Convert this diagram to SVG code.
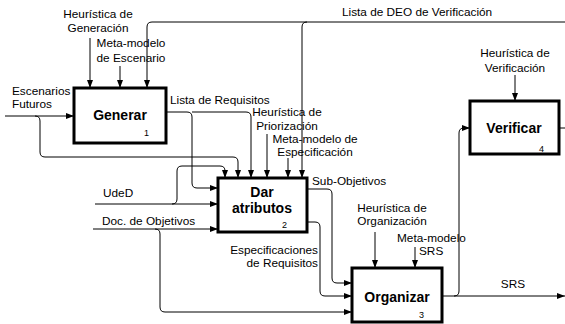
<svg xmlns="http://www.w3.org/2000/svg" width="565" height="324" viewBox="0 0 565 324">
<defs>
<marker id="ah" markerWidth="8" markerHeight="6" refX="8" refY="3" orient="auto" markerUnits="userSpaceOnUse">
<path d="M0,0 L8,3 L0,6 Z" fill="#000"/>
</marker>
<style>
.box{fill:#fff;stroke:#000;stroke-width:3}
.t{font-family:"Liberation Sans",Arial,sans-serif;font-size:11.8px;fill:#000}
.b{font-family:"Liberation Sans",Arial,sans-serif;font-size:14px;font-weight:bold;fill:#000;text-anchor:middle}
.n{font-family:"Liberation Sans",Arial,sans-serif;font-size:9px;fill:#000}
.c{text-anchor:middle}
.r{text-anchor:end}
.w{fill:none;stroke:#000;stroke-width:1}
.a{marker-end:url(#ah)}
</style>
</defs>
<rect width="565" height="324" fill="#fff"/>
<g id="connectors">
<path class="w a" d="M90,38 V88"/>
<path class="w a" d="M120,66 V88"/>
<path class="w a" d="M565,22 H152 Q147,22 147,27 V88"/>
<path class="w a" d="M307,22 Q302,22 302,27 V178"/>
<path class="w a" d="M5,116 H74"/>
<path class="w a" d="M35,116 Q40,116 40,121 V152 Q40,157 45,157 H233 Q238,157 238,162 V178"/>
<path class="w a" d="M166,112 H187 Q192,112 192,117 V183 Q192,188 197,188 H218"/>
<path class="w a" d="M192,112 H246 Q251,112 251,117 V178"/>
<path class="w a" d="M267,134 V178"/>
<path class="w a" d="M288,158 V178"/>
<path class="w a" d="M95,204 H218"/>
<path class="w a" d="M172,204 Q177,204 177,199 V171 Q177,166 182,166 H220 Q225,166 225,171 V178"/>
<path class="w a" d="M93,229 H218"/>
<path class="w a" d="M155,229 Q160,229 160,234 V307 Q160,312 165,312 H352"/>
<path class="w a" d="M307,189 H327 Q332,189 332,194 V278 Q332,283 337,283 H352"/>
<path class="w a" d="M307,222 H315 Q320,222 320,227 V291 Q320,296 325,296 H352"/>
<path class="w a" d="M375,232 V268"/>
<path class="w a" d="M415,247 V268"/>
<path class="w a" d="M442,296 H565"/>
<path class="w a" d="M454,296 Q459,296 459,291 V133 Q459,128 464,128 H470"/>
<path class="w a" d="M515,75 V101"/>
<path class="w" d="M559,128 H565"/>
</g>
<g id="labels">
<text class="t c" x="98" y="18">Heurística de</text>
<text class="t c" x="98" y="32">Generación</text>
<text class="t c" x="131" y="47">Meta-modelo</text>
<text class="t c" x="131" y="62">de Escenario</text>
<text class="t" x="12" y="95">Escenarios</text>
<text class="t" x="12" y="108">Futuros</text>
<text class="t" x="170" y="104">Lista de Requisitos</text>
<text class="t c" x="287" y="116">Heurística de</text>
<text class="t c" x="287" y="130">Priorización</text>
<text class="t c" x="315" y="143">Meta-modelo de</text>
<text class="t c" x="315" y="156">Especificación</text>
<text class="t" x="342" y="16">Lista de DEO de Verificación</text>
<text class="t c" x="515" y="57">Heurística de</text>
<text class="t c" x="515" y="72">Verificación</text>
<text class="t" x="103" y="197">UdeD</text>
<text class="t" x="102" y="225">Doc. de Objetivos</text>
<text class="t" x="312" y="185">Sub-Objetivos</text>
<text class="t c" x="392" y="212">Heurística de</text>
<text class="t c" x="392" y="225">Organización</text>
<text class="t" x="397" y="242">Meta-modelo</text>
<text class="t" x="419" y="255">SRS</text>
<text class="t r" x="318" y="254">Especificaciones</text>
<text class="t r" x="318" y="267">de Requisitos</text>
<text class="t c" x="513" y="288">SRS</text>
</g>
<g id="generar">
<rect class="box" x="74" y="88" width="92" height="55"/>
<text class="b" x="120" y="120">Generar</text>
<text class="n" x="144" y="136">1</text>
</g>
<g id="dar-atributos">
<rect class="box" x="218" y="178" width="89" height="54"/>
<text class="b" x="262" y="197">Dar</text>
<text class="b" x="262" y="213">atributos</text>
<text class="n" x="282" y="228">2</text>
</g>
<g id="organizar">
<rect class="box" x="352" y="268" width="90" height="54"/>
<text class="b" x="397" y="302">Organizar</text>
<text class="n" x="419" y="318">3</text>
</g>
<g id="verificar">
<rect class="box" x="470" y="101" width="89" height="53"/>
<text class="b" x="514" y="133">Verificar</text>
<text class="n" x="539" y="152">4</text>
</g>
</svg>
